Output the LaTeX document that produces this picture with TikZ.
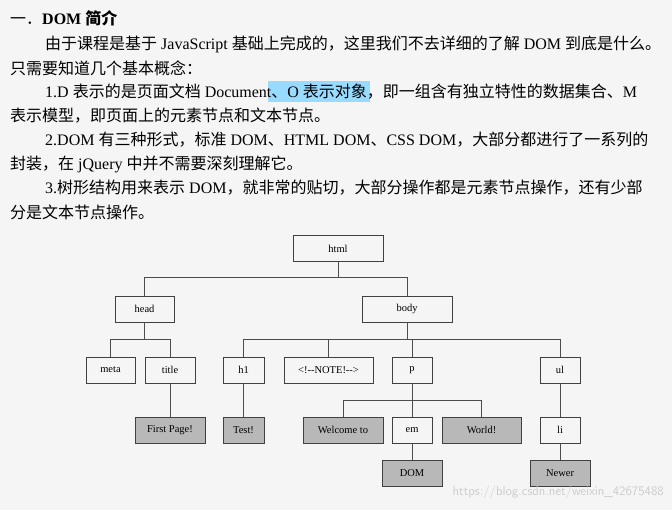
\documentclass[tikz,border=0pt]{standalone}
\usepackage{fontspec}
\setmainfont{Liberation Serif}
\newfontfamily\cjk{Noto Sans CJK SC}
\newcommand{\C}[1]{{\cjk #1}}
\begin{document}
\begin{tikzpicture}[x=1pt,y=-1pt,
  box/.style={draw=black!75,line width=0.7pt,minimum height=26pt,inner sep=0pt,font=\fontsize{10.5}{12}\selectfont},
  leaf/.style={box,fill=black!28},
  txt/.style={anchor=west,inner sep=0pt,font=\fontsize{16}{18}\selectfont},
  wire/.style={draw=black!70,line width=0.8pt}]
\fill[black!4] (0,0) rectangle (672,510);
\useasboundingbox (0,0) rectangle (672,510);
\fill[blue!35!cyan!40] (268,81) rectangle (370,102);
\node[txt] (t0) at (10,18) {\C{一．}\textbf{DOM \C{简介}}};
\node[txt] (t1) at (45,44) {\C{由于课程是基于} JavaScript \C{基础上完成的，这里我们不去详细的了解} DOM \C{到底是什么。}};
\node[txt] (t2) at (10,68) {\C{只需要知道几个基本概念：}};
\node[txt] (t3) at (45,92) {1.D \C{表示的是页面文档} Document\C{、}O \C{表示对象，即一组含有独立特性的数据集合、}M};
\node[txt] (t4) at (10,116) {\C{表示模型，即页面上的元素节点和文本节点。}};
\node[txt] (t5) at (45,140) {2.DOM \C{有三种形式，标准} DOM\C{、}HTML DOM\C{、}CSS DOM\C{，大部分都进行了一系列的}};
\node[txt] (t6) at (10,164) {\C{封装，在} jQuery \C{中并不需要深刻理解它。}};
\node[txt] (t7) at (45,188) {3.\C{树形结构用来表示} DOM\C{，就非常的贴切，大部分操作都是元素节点操作，还有少部}};
\node[txt] (t8) at (10,212) {\C{分是文本节点操作。}};
% tree
\node[box,minimum width=90pt] (html) at (338,248.5) {html};
\node[box,minimum width=59pt] (head) at (144.5,309) {head};
\node[box,minimum width=90pt] (body) at (407,309) {body};
\node[box,minimum width=49pt] (meta) at (110.5,370) {meta};
\node[box,minimum width=50pt] (title) at (170,370) {title};
\node[box,minimum width=41pt] (h1) at (243.5,370) {h1};
\node[box,minimum width=89pt] (note) at (328.5,370) {<!-{}-NOTE!-{}->};
\node[box,minimum width=40pt] (p) at (412,370) {p};
\node[box,minimum width=40pt] (ul) at (560,370) {ul};
\node[leaf,minimum width=70pt] (fp) at (170,430) {First Page!};
\node[leaf,minimum width=41pt] (test) at (243.5,430) {Test!};
\node[leaf,minimum width=80pt] (wel) at (343,430) {Welcome to};
\node[box,minimum width=40pt] (em) at (412,430) {em};
\node[leaf,minimum width=79pt] (world) at (481.5,430) {World!};
\node[box,minimum width=40pt] (li) at (560,430) {li};
\node[leaf,minimum width=60pt] (dom) at (412,473) {DOM};
\node[leaf,minimum width=60pt] (newer) at (560,473) {Newer};
\draw[wire] (html.south) -- ++(0,16) coordinate (b0);
\draw[wire] (head.north) |- (b0) -| (body.north);
\draw[wire] (head.south) -- ++(0,17) coordinate (b1);
\draw[wire] (meta.north) |- (b1) -| (title.north);
\draw[wire] (body.south) -- ++(0,17) coordinate (b2);
\draw[wire] (h1.north) |- (b2) -| (ul.north);
\draw[wire] (note.north) |- (b2);
\draw[wire] (p.north) -- (p.north |- b2);
\draw[wire] (title) -- (fp);
\draw[wire] (h1) -- (test);
\draw[wire] (ul) -- (li);
\draw[wire] (li) -- (newer);
\draw[wire] (em) -- (dom);
\draw[wire] (p.south) -- ++(0,17) coordinate (b3);
\draw[wire] (wel.north) |- (b3) -| (world.north);
\draw[wire] (b3) -- (em.north);
\node[anchor=east,inner sep=0pt,text=white!80!black,font=\sffamily\fontsize{13}{15}\selectfont] (wm) at (664,492) {https://blog.csdn.net/weixin\_42675488};
\end{tikzpicture}
\end{document}
